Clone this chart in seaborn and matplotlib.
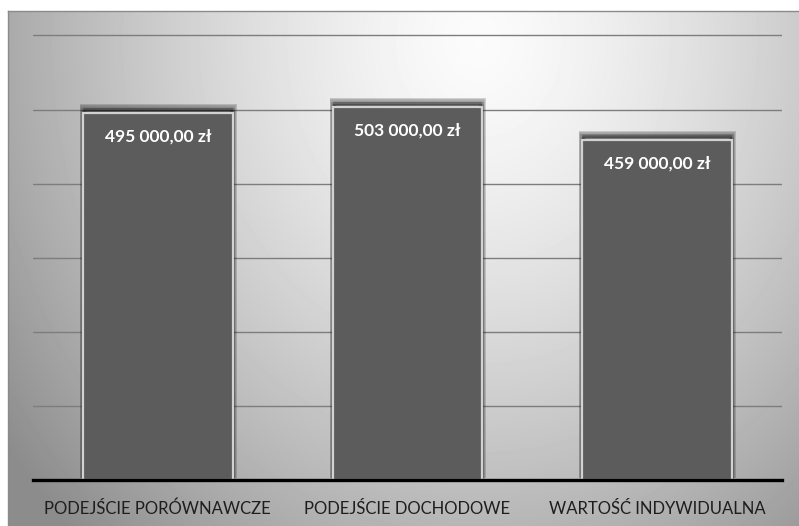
import numpy as np
import matplotlib
matplotlib.use("Agg")
import matplotlib.pyplot as plt
import matplotlib.patheffects as pe
import seaborn as sns
import pandas as pd

categories = ["PODEJŚCIE PORÓWNAWCZE", "PODEJŚCIE DOCHODOWE", "WARTOŚĆ INDYWIDUALNA"]
values = [495000, 503000, 459000]
grid_ticks = [0, 100000, 200000, 300000, 400000, 500000, 600000]

def fmt(v):
    s = f"{v:,.2f}".replace(",", " ").replace(".", ",")
    return s + " zł"

labels = [fmt(v) for v in values]

sns.set_theme(style="white")
plt.rcParams["font.family"] = ["Lato", "DejaVu Sans"]

W, H = 799, 526
fig = plt.figure(figsize=(W / 100, H / 100), dpi=100)
fig.patch.set_facecolor("white")

# background panel with radial gradient
bg = fig.add_axes([8 / W, 0, (W - 8) / W, (H - 11) / H])
ny, nx = 515, 791
yy, xx = np.mgrid[0:ny, 0:nx]
cx, cy = 470, 30
rx, ry = 450, 520
r = np.sqrt(((xx - cx) / rx) ** 2 + ((yy - cy) / ry) ** 2)
g = np.clip(0.985 - 0.30 * r ** 1.4, 0.55, 1.0)
bg.imshow(g, cmap="gray", vmin=0, vmax=1, aspect="auto", interpolation="bilinear")
bg.set_xticks([]); bg.set_yticks([])
for s in ["right", "bottom"]:
    bg.spines[s].set_visible(False)
for s in ["top", "left"]:
    bg.spines[s].set_color("#8a8a8a")
    bg.spines[s].set_linewidth(1.0)

ax = fig.add_axes([33 / W, 46 / H, 749 / W, 466.8 / H])
ax.patch.set_alpha(0)
df = pd.DataFrame({"cat": categories, "val": values})
sns.barplot(data=df, x="cat", y="val", ax=ax, color="#5c5c5c", width=0.6,
            edgecolor="#d2d2d2", linewidth=1.6, saturation=1, zorder=3)
shadow = []
for k, lw in [(4.5, 5), (3.5, 4), (2.5, 3), (1.5, 2)]:
    shadow.append(pe.SimplePatchShadow(offset=(0, k), shadow_rgbFace="#1a1a1a",
                                       alpha=0.16, linewidth=lw))
for p in ax.patches:
    p.set_path_effects(shadow + [pe.Normal()])

ax.set_ylim(0, 630000)
ax.set_xlim(-0.5, len(categories) - 0.5)
ax.set_yticks(grid_ticks[1:])
ax.yaxis.grid(True, color="#7d7d7d", linewidth=1.0, zorder=0)
ax.set_axisbelow(True)
ax.tick_params(axis="y", left=False, labelleft=False)
ax.tick_params(axis="x", bottom=False, pad=9, labelsize=12, labelcolor="#1e1e1e")
for s in ["top", "right", "left"]:
    ax.spines[s].set_visible(False)
ax.spines["bottom"].set_color("black")
ax.spines["bottom"].set_linewidth(2.4)
ax.spines["bottom"].set_zorder(5)
ax.set_xlabel("")
ax.set_ylabel("")

for i, (v, lab) in enumerate(zip(values, labels)):
    ax.annotate(lab, xy=(i, v), xytext=(0, -17), textcoords="offset points",
                ha="center", va="center", color="white", fontsize=12.5,
                fontweight="bold", zorder=6)

fig.savefig("out.png", dpi=100)
